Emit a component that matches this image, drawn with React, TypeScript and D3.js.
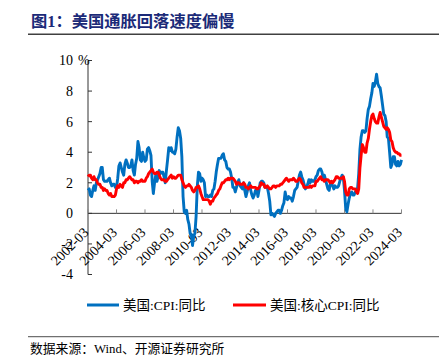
import React, { useEffect, useRef } from "react";
import * as d3 from "d3";

const TITLE = "图1：美国通胀回落速度偏慢";
const SOURCE = "数据来源：Wind、开源证券研究所";
const SERIES_NAMES = ["美国:CPI:同比", "美国:核心CPI:同比"];
const START = { year: 2002, month: 3 };
const X_TICK_LABELS = ["2002-03","2004-03","2006-03","2008-03","2010-03","2012-03","2014-03","2016-03","2018-03","2020-03","2022-03","2024-03"];
const Y_TICKS = [-4, -2, 0, 2, 4, 6, 8, 10];

// US CPI YoY, monthly from 2002-03 to 2024-03
const CPI = [
  1.5, 1.6, 1.2, 1.1, 1.5, 1.8, 1.5, 2.0, 2.2, 2.4,
  2.6, 3.0, 3.0, 2.2, 2.1, 2.1, 2.1, 2.2, 2.3, 2.0, 1.8, 1.9,
  1.9, 1.7, 1.7, 2.3, 3.1, 3.3, 3.0, 2.7, 2.5, 3.2, 3.5, 3.3,
  3.0, 3.0, 3.1, 3.5, 2.8, 2.5, 3.2, 3.6, 4.7, 4.3, 3.5, 3.4,
  4.0, 3.6, 3.4, 3.5, 4.2, 4.3, 4.1, 3.8, 2.1, 1.3, 2.0, 2.5,
  2.1, 2.4, 2.8, 2.6, 2.7, 2.7, 2.4, 2.0, 2.8, 3.5, 4.3, 4.1,
  4.3, 4.0, 4.0, 3.9, 4.2, 5.0, 5.6, 5.4, 4.9, 3.7, 1.1, 0.1,
  0.0, 0.2, -0.4, -0.7, -1.3, -1.4, -2.1, -1.5, -1.3, -0.2, 1.8, 2.7,
  2.6, 2.1, 2.3, 2.2, 2.0, 1.1, 1.2, 1.1, 1.1, 1.2, 1.1, 1.5,
  1.6, 2.1, 2.7, 3.2, 3.6, 3.6, 3.6, 3.8, 3.9, 3.5, 3.4, 3.0,
  2.9, 2.9, 2.7, 2.3, 1.7, 1.7, 1.4, 1.7, 2.0, 2.2, 1.8, 1.7,
  1.6, 2.0, 1.5, 1.1, 1.4, 1.8, 2.0, 1.5, 1.2, 1.0, 1.2, 1.5,
  1.6, 1.1, 1.5, 2.0, 2.1, 2.1, 2.0, 1.7, 1.7, 1.7, 1.3, 0.8,
  -0.1, 0.0, -0.1, -0.2, 0.0, 0.1, 0.2, 0.2, 0.0, 0.2, 0.5, 0.7,
  1.4, 1.0, 0.9, 1.1, 1.0, 1.0, 0.8, 1.1, 1.5, 1.6, 1.7, 2.1,
  2.5, 2.7, 2.4, 2.2, 1.9, 1.6, 1.7, 1.9, 2.2, 2.0, 2.2, 2.1,
  2.1, 2.2, 2.4, 2.5, 2.8, 2.9, 2.9, 2.7, 2.3, 2.5, 2.2, 1.9,
  1.6, 1.5, 1.9, 2.0, 1.8, 1.6, 1.8, 1.7, 1.7, 1.8, 2.1, 2.3,
  2.5, 2.3, 1.5, 0.3, 0.1, 0.6, 1.0, 1.3, 1.4, 1.2, 1.2, 1.4,
  1.4, 1.7, 2.6, 4.2, 5.0, 5.4, 5.4, 5.3, 5.4, 6.2, 6.8, 7.0,
  7.5, 7.9, 8.5, 8.3, 8.6, 9.1, 8.5, 8.3, 8.2, 7.7, 7.1, 6.5,
  6.4, 6.0, 5.0, 4.9, 4.0, 3.0, 3.2, 3.7, 3.7, 3.2, 3.1, 3.4,
  3.1, 3.2, 3.5,
];

// US core CPI YoY, monthly from 2002-03 to 2024-03
const CORE = [
  2.4, 2.5, 2.5, 2.3, 2.2, 2.4, 2.2, 2.2, 2.0, 1.9,
  1.9, 1.7, 1.7, 1.5, 1.6, 1.5, 1.5, 1.3, 1.2, 1.3, 1.1, 1.1,
  1.1, 1.2, 1.6, 1.8, 1.7, 1.9, 1.8, 1.7, 2.0, 2.0, 2.2, 2.2,
  2.3, 2.4, 2.3, 2.2, 2.2, 2.0, 2.1, 2.1, 2.0, 2.1, 2.1, 2.2,
  2.1, 2.1, 2.1, 2.3, 2.4, 2.6, 2.7, 2.8, 2.9, 2.7, 2.6, 2.6,
  2.7, 2.7, 2.5, 2.3, 2.2, 2.2, 2.2, 2.1, 2.1, 2.2, 2.3, 2.4,
  2.5, 2.3, 2.4, 2.3, 2.3, 2.4, 2.5, 2.5, 2.5, 2.2, 2.0, 1.8,
  1.7, 1.8, 1.8, 1.9, 1.8, 1.7, 1.5, 1.4, 1.5, 1.7, 1.7, 1.8,
  1.6, 1.3, 1.1, 0.9, 0.9, 0.9, 0.9, 0.9, 0.8, 0.6, 0.8, 0.8,
  1.0, 1.1, 1.2, 1.3, 1.5, 1.6, 1.8, 2.0, 2.0, 2.1, 2.2, 2.2,
  2.3, 2.2, 2.3, 2.3, 2.3, 2.2, 2.1, 1.9, 2.0, 2.0, 1.9, 1.9,
  1.9, 2.0, 1.9, 1.7, 1.7, 1.6, 1.7, 1.8, 1.7, 1.7, 1.7, 1.7,
  1.6, 1.6, 1.7, 1.8, 2.0, 1.9, 1.9, 1.7, 1.7, 1.8, 1.7, 1.6,
  1.6, 1.7, 1.8, 1.8, 1.7, 1.8, 1.8, 1.8, 1.9, 1.9, 2.0, 2.1,
  2.2, 2.3, 2.2, 2.1, 2.2, 2.2, 2.2, 2.3, 2.2, 2.1, 2.1, 2.2,
  2.3, 2.2, 2.0, 1.9, 1.7, 1.7, 1.7, 1.7, 1.7, 1.8, 1.7, 1.8,
  1.8, 1.8, 2.1, 2.1, 2.2, 2.3, 2.4, 2.2, 2.2, 2.1, 2.2, 2.2,
  2.2, 2.1, 2.0, 2.1, 2.0, 2.1, 2.2, 2.4, 2.4, 2.3, 2.3, 2.3,
  2.3, 2.4, 2.1, 1.4, 1.2, 1.2, 1.6, 1.7, 1.7, 1.6, 1.6, 1.6,
  1.4, 1.3, 1.6, 3.0, 3.8, 4.5, 4.3, 4.0, 4.0, 4.6, 4.9, 5.5,
  6.0, 6.4, 6.5, 6.2, 6.0, 5.9, 5.9, 6.3, 6.6, 6.3, 6.0, 5.7,
  5.6, 5.5, 5.6, 5.5, 5.3, 4.8, 4.7, 4.3, 4.1, 4.0, 4.0, 3.9,
  3.9, 3.8, 3.8,
];

const COLORS = ["#0070C0", "#FF0000"];
const LATIN_CJK = "'Liberation Serif', 'Times New Roman', 'Noto Sans CJK SC', serif";

const monthDate = (i: number) => new Date(START.year, START.month - 1 + i, 1);
const parseLabel = (s: string) => {
  const [y, m] = s.split("-").map(Number);
  return new Date(y, m - 1, 1);
};

export default function App() {
  const ref = useRef<SVGSVGElement>(null);

  useEffect(() => {
    const svg = d3.select(ref.current);
    svg.selectAll("*").remove();

    const x = d3
      .scaleTime()
      .domain([parseLabel(X_TICK_LABELS[0]), parseLabel(X_TICK_LABELS[X_TICK_LABELS.length - 1])])
      .range([88, 401.5]);
    const y = d3.scaleLinear().domain([-4, 10]).range([274.5, 60.5]);

    // Title
    svg.append("text")
      .attr("x", 31).attr("y", 27)
      .attr("font-family", LATIN_CJK)
      .attr("font-size", 16.3).attr("font-weight", "bold")
      .attr("fill", "#1B2A78")
      .text(TITLE);
    svg.append("line")
      .attr("x1", 28).attr("x2", 439).attr("y1", 34.3).attr("y2", 34.3)
      .attr("stroke", "#404040").attr("stroke-width", 1.5);

    // Y axis
    const g = svg.append("g");
    g.append("line")
      .attr("x1", x.range()[0]).attr("x2", x.range()[0])
      .attr("y1", y(10)).attr("y2", y(-4))
      .attr("stroke", "#333").attr("stroke-width", 1);
    Y_TICKS.forEach((t) => {
      g.append("line")
        .attr("x1", x.range()[0]).attr("x2", x.range()[0] + 4)
        .attr("y1", y(t)).attr("y2", y(t))
        .attr("stroke", "#333");
      g.append("text")
        .attr("x", 73).attr("y", y(t))
        .attr("dy", "0.35em")
        .attr("text-anchor", "end")
        .attr("font-family", LATIN_CJK).attr("font-size", 14)
        .attr("fill", "#000")
        .text(String(t));
    });
    g.append("text")
      .attr("x", 78).attr("y", y(10)).attr("dy", "0.35em")
      .attr("font-family", LATIN_CJK).attr("font-size", 14)
      .text("%");

    // X axis at y=0
    g.append("line")
      .attr("x1", x.range()[0]).attr("x2", x.range()[1])
      .attr("y1", y(0)).attr("y2", y(0))
      .attr("stroke", "#333");
    X_TICK_LABELS.forEach((lab) => {
      const xx = x(parseLabel(lab));
      g.append("line")
        .attr("x1", xx).attr("x2", xx)
        .attr("y1", y(0)).attr("y2", y(0) - 4)
        .attr("stroke", "#888");
      g.append("text")
        .attr("transform", `translate(${xx + 1.5},${y(0) + 20}) rotate(-45)`)
        .attr("text-anchor", "end")
        .attr("font-family", LATIN_CJK).attr("font-size", 14)
        .attr("fill", "#000")
        .text(lab);
    });

    // Lines
    const series = [CPI, CORE];
    series.forEach((vals, si) => {
      const line = d3
        .line<number>()
        .x((_, i) => x(monthDate(i)))
        .y((v) => y(v));
      svg.append("path")
        .datum(vals)
        .attr("d", line)
        .attr("fill", "none")
        .attr("stroke", COLORS[si])
        .attr("stroke-width", 2.9)
        .attr("stroke-linejoin", "round");
    });

    // Legend
    const legendItems = [
      { x1: 87, x2: 119, tx: 123 },
      { x1: 233, x2: 266, tx: 270 },
    ];
    legendItems.forEach((it, i) => {
      svg.append("line")
        .attr("x1", it.x1).attr("x2", it.x2).attr("y1", 305).attr("y2", 305)
        .attr("stroke", COLORS[i]).attr("stroke-width", 3);
      svg.append("text")
        .attr("x", it.tx).attr("y", 305).attr("dy", "0.36em")
        .attr("font-family", LATIN_CJK).attr("font-size", 13.5)
        .attr("fill", "#000")
        .text(SERIES_NAMES[i]);
    });

    // Bottom rule + source
    svg.append("line")
      .attr("x1", 28).attr("x2", 439).attr("y1", 336.7).attr("y2", 336.7)
      .attr("stroke", "#707070").attr("stroke-width", 1.3);
    svg.append("text")
      .attr("x", 30).attr("y", 353)
      .attr("font-family", LATIN_CJK).attr("font-size", 12.8)
      .attr("fill", "#000")
      .text(SOURCE);
  }, []);

  return (
    <svg
      ref={ref}
      width={439}
      height={362}
      style={{ position: "absolute", left: 0, top: 0, background: "#fff" }}
    />
  );
}
